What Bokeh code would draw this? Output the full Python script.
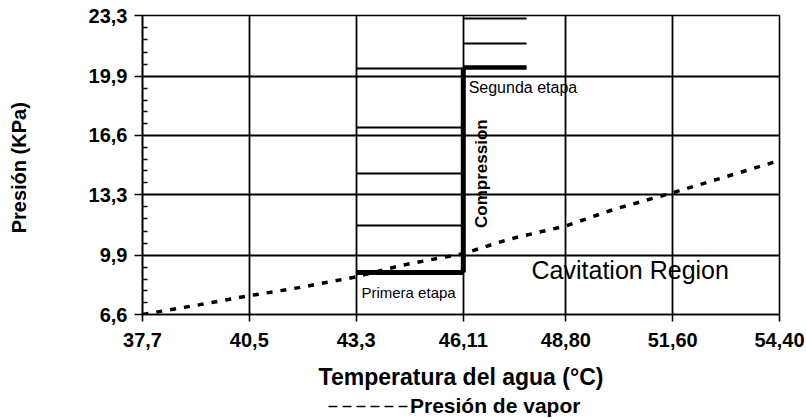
from bokeh.plotting import figure
from bokeh.layouts import column
from bokeh.models import FixedTicker, Label, Legend, LegendItem
from bokeh.embed import file_html
from bokeh.resources import INLINE

# ---- data -------------------------------------------------------------
x_ticks = [37.7, 40.5, 43.3, 46.11, 48.80, 51.60, 54.40]
x_tick_labels = ["37,7", "40,5", "43,3", "46,11", "48,80", "51,60", "54,40"]
y_ticks = [6.6, 9.9, 13.3, 16.6, 19.9, 23.3]
y_tick_labels = ["6,6", "9,9", "13,3", "16,6", "19,9", "23,3"]

# vapour-pressure curve (temperature °C, pressure kPa)
vapor_temp = [37.7, 39.2, 40.5, 41.8, 43.3, 44.5, 45.6, 46.11, 47.3, 48.8, 50.1, 51.6, 53.0, 54.4]
vapor_pres = [6.6, 7.15, 7.65, 8.1, 8.7, 9.35, 9.8, 10.0, 10.8, 11.55, 12.5, 13.4, 14.3, 15.2]

# first stage (Primera etapa)
stage1_t = [43.3, 46.11]
stage1_main = 8.95
stage1_levels = [11.57, 14.47, 17.04, 20.34]

# second stage (Segunda etapa)
stage2_t = [46.11, 47.77]
stage2_main = 20.4
stage2_levels = [21.73, 23.13]

# compression
compression_t = [46.11, 46.11]
compression_p = [8.95, 20.4]

FONT = "Liberation Sans"

# ---- main figure ------------------------------------------------------
p = figure(width=806, height=396, x_range=(37.7, 54.4), y_range=(6.6, 23.3),
           output_backend="svg", toolbar_location=None,
           min_border_left=142, min_border_right=27, min_border_top=15, min_border_bottom=82)
p.background_fill_color = "white"
p.border_fill_color = "white"
p.outline_line_color = "black"
p.outline_line_width = 1.6

p.xaxis.ticker = FixedTicker(ticks=x_ticks)
p.xaxis.major_label_overrides = dict(zip(x_ticks, x_tick_labels))
minor = []
for i in range(len(y_ticks) - 1):
    step = (y_ticks[i + 1] - y_ticks[i]) / 5
    minor += [y_ticks[i] + k * step for k in range(1, 5)]
p.yaxis.ticker = FixedTicker(ticks=y_ticks, minor_ticks=minor)
p.yaxis.major_label_overrides = dict(zip(y_ticks, y_tick_labels))

for ax in (p.xaxis[0], p.yaxis[0]):
    ax.axis_line_color = "black"
    ax.axis_line_width = 1.6
    ax.major_tick_line_color = "black"
    ax.major_tick_line_width = 1.6
    ax.major_tick_in = 0
    ax.major_label_text_font = FONT
    ax.major_label_text_font_style = "bold"
    ax.major_label_text_font_size = "20px"
    ax.major_label_text_color = "black"
    ax.axis_label_text_font = FONT
    ax.axis_label_text_font_style = "bold"
    ax.axis_label_text_color = "black"

p.xaxis.major_tick_out = 7
p.xaxis.minor_tick_line_color = None
p.xaxis.major_label_standoff = 11
p.xaxis.axis_label = "Temperatura del agua (°C)"
p.xaxis.axis_label_text_font_size = "23px"
p.xaxis.axis_label_standoff = 14

p.yaxis.major_tick_out = 8
p.yaxis.minor_tick_in = 5
p.yaxis.minor_tick_out = 0
p.yaxis.minor_tick_line_color = "black"
p.yaxis.minor_tick_line_width = 1.6
p.yaxis.major_label_standoff = 7
p.yaxis.axis_label = "Presión  (KPa)"
p.yaxis.axis_label_text_font_size = "20px"
p.yaxis.axis_label_standoff = 56

p.xgrid.ticker = FixedTicker(ticks=x_ticks)
p.ygrid.ticker = FixedTicker(ticks=y_ticks)
for g in (p.xgrid[0], p.ygrid[0]):
    g.grid_line_color = "black"
    g.grid_line_width = 1.8
    g.grid_line_alpha = 1.0

# stage lines
n1 = len(stage1_levels)
p.segment(x0=[stage1_t[0]] * n1, x1=[stage1_t[1]] * n1, y0=stage1_levels, y1=stage1_levels,
          line_color="black", line_width=2)
p.segment(x0=[stage1_t[0]], x1=[stage1_t[1]], y0=[stage1_main], y1=[stage1_main],
          line_color="black", line_width=5)
n2 = len(stage2_levels)
p.segment(x0=[stage2_t[0]] * n2, x1=[stage2_t[1]] * n2, y0=stage2_levels, y1=stage2_levels,
          line_color="black", line_width=2)
p.segment(x0=[stage2_t[0]], x1=[stage2_t[1]], y0=[stage2_main], y1=[stage2_main],
          line_color="black", line_width=4.5)
p.line(compression_t, compression_p, line_color="black", line_width=5)

# vapour curve
p.line(vapor_temp, vapor_pres, line_color="black", line_width=3.5, line_dash="6 8")

# annotations
p.add_layout(Label(x=46.25, y=19.28, text="Segunda etapa", text_font=FONT,
                   text_font_size="16px", text_baseline="middle", text_color="black"))
p.add_layout(Label(x=43.44, y=7.83, text="Primera etapa", text_font=FONT,
                   text_font_size="15px", text_baseline="middle", text_color="black"))
p.add_layout(Label(x=46.59, y=14.47, text="Compression", text_font=FONT,
                   text_font_size="17px", text_font_style="bold", angle=90, angle_units="deg",
                   text_align="center", text_baseline="middle", text_color="black"))
p.add_layout(Label(x=47.9, y=9.06, text="Cavitation Region", text_font=FONT,
                   text_font_size="25px", text_baseline="middle", text_color="black"))

# ---- legend strip (same series, drawn outside its view, used for the key) ----
lg = figure(width=806, height=23, x_range=(0, 1), y_range=(0, 1),
            output_backend="svg", toolbar_location=None,
            min_border_left=0, min_border_right=0, min_border_top=0, min_border_bottom=0)
lg.axis.visible = False
lg.grid.visible = False
lg.outline_line_color = None
lg.background_fill_color = "white"
lg.border_fill_color = "white"
key = lg.line(vapor_temp, vapor_pres, line_color="black", line_width=1.5, line_dash="9 5")
legend = Legend(items=[LegendItem(label="Presión de vapor", renderers=[key])],
                location=(186, 1), glyph_width=80, glyph_height=16, label_height=16,
                label_text_font=FONT, label_text_font_style="bold",
                label_text_font_size="21px", label_text_color="black", label_standoff=2,
                padding=0, margin=0, spacing=0,
                border_line_alpha=0, background_fill_alpha=0)
lg.add_layout(legend)

layout = column(p, lg, spacing=0)
open("out.html", "w").write(file_html(layout, INLINE))
